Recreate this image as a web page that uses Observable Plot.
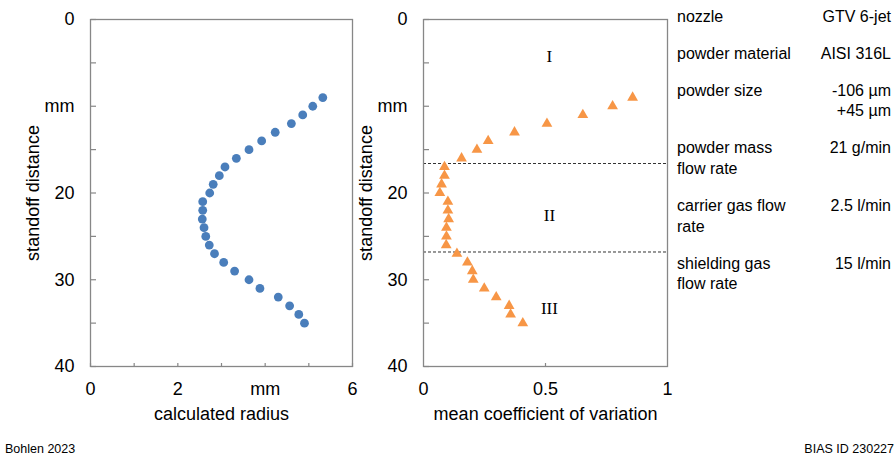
<!DOCTYPE html>
<html>
<head>
<meta charset="utf-8">
<script src="https://cdn.jsdelivr.net/npm/d3@7"></script>
<script src="https://cdn.jsdelivr.net/npm/@observablehq/plot@0.6"></script>
<style>
  html, body { margin: 0; padding: 0; background: #fff; }
  #root { position: relative; width: 896px; height: 460px; overflow: hidden; font-family: "Liberation Sans", Arial, sans-serif; color: #000; }
  #left { position: absolute; left: 0; top: 0; }
  #right { position: absolute; left: 340px; top: 0; }
  #table { position: absolute; left: 677px; top: 6.9px; width: 214px; font-size: 16px; line-height: 20.6px; }
  .row { display: flex; justify-content: space-between; margin-bottom: 16.4px; }
  .row .k { white-space: pre-line; }
  .row .v { white-space: pre-line; text-align: right; }
  .foot { position: absolute; top: 442px; font-size: 12.5px; white-space: nowrap; }
</style>
</head>
<body>
<div id="root">
  <div id="left"></div>
  <div id="right"></div>
  <div id="table"></div>
  <div class="foot" id="footL" style="left:5px"></div>
  <div class="foot" id="footR" style="right:2px"></div>
</div>
<script>
// ---- data ----
const standoff = [9, 10, 11, 12, 13, 14, 15, 16, 17, 18, 19, 20, 21, 22, 23, 24, 25, 26, 27, 28, 29, 30, 31, 32, 33, 34, 35];
const radius = [5.32, 5.09, 4.86, 4.6, 4.23, 3.92, 3.63, 3.34, 3.08, 2.95, 2.81, 2.73, 2.57, 2.57, 2.56, 2.6, 2.64, 2.72, 2.84, 3.05, 3.3, 3.63, 3.88, 4.3, 4.56, 4.77, 4.9];
const meanCov = [0.857, 0.775, 0.653, 0.506, 0.373, 0.265, 0.219, 0.156, 0.086, 0.086, 0.074, 0.067, 0.1, 0.1, 0.103, 0.094, 0.094, 0.093, 0.137, 0.18, 0.2, 0.204, 0.249, 0.298, 0.351, 0.357, 0.407];

const yTicks = [0, 5, 10, 15, 20, 25, 30, 35, 40];
const yLabelValues = [0, 10, 20, 30, 40];
const yLabelTexts = ["0", "mm", "20", "30", "40"];

const xLeftTicks = [0, 1, 2, 3, 4, 5, 6];
const xLeftLabelValues = [0, 2, 4, 6];
const xLeftLabelTexts = ["0", "2", "mm", "6"];

const xRightTicks = [0.5];
const xRightLabelValues = [0, 0.5, 1];
const xRightLabelTexts = ["0", "0.5", "1"];

const regionBounds = [16.6, 26.8];
const regionLabels = ["I", "II", "III"];
const regionLabelX = [0.516, 0.516, 0.516];
const regionLabelY = [4.3, 22.6, 33.3];

const yTitle = "standoff distance";
const xLeftTitle = "calculated radius";
const xRightTitle = "mean coefficient of variation";

const paramNames = ["nozzle", "powder material", "powder size", "powder mass\nflow rate", "carrier gas flow\nrate", "shielding gas\nflow rate"];
const paramValues = ["GTV 6-jet", "AISI 316L", "-106 µm\n+45 µm", "21 g/min", "2.5 l/min", "15 l/min"];

const footLeft = "Bohlen 2023";
const footRight = "BIAS ID 230227";

// ---- build ----
const rows = standoff.map((s, i) => ({standoff: s, radius: radius[i], cov: meanCov[i]}));
const regions = regionLabels.map((t, i) => ({t, x: regionLabelX[i], y: regionLabelY[i]}));
const frameGray = "#878787";

function fmt(values, texts) {
  return d => { const i = values.indexOf(d); return i < 0 ? "" : texts[i]; };
}

function panel({width, marginLeft, marginRight, xDomain, xTicks, xLabelValues, xLabelTexts, xTitle, extra}) {
  return Plot.plot({
    width, height: 430,
    marginLeft, marginRight, marginTop: 19, marginBottom: 64,
    style: {fontFamily: '"Liberation Sans", Arial, sans-serif', fontSize: "18px", color: "#000", background: "transparent", overflow: "visible"},
    x: {domain: xDomain, label: null},
    y: {domain: [0, 40], reverse: true, label: null},
    marks: [
      Plot.axisY({ticks: yTicks, anchor: "right", frameAnchor: "left", tickSize: 5, fill: "none", stroke: frameGray, strokeWidth: 1.2, label: null}),
      Plot.axisY({ticks: yLabelValues, anchor: "left", tickSize: 0, tickPadding: 16, tickFormat: fmt(yLabelValues, yLabelTexts), label: null}),
      Plot.axisX({ticks: xTicks, anchor: "top", frameAnchor: "bottom", tickSize: 4, fill: "none", stroke: frameGray, strokeWidth: 1.2, label: null}),
      Plot.axisX({ticks: xLabelValues, anchor: "bottom", tickSize: 0, tickPadding: 16, tickFormat: fmt(xLabelValues, xLabelTexts), label: null}),
      Plot.text([yTitle], {frameAnchor: "left", dx: -57, rotate: -90, textAnchor: "middle", lineAnchor: "middle"}),
      Plot.text([xTitle], {frameAnchor: "bottom", dy: 48, textAnchor: "middle", lineAnchor: "middle"}),
      ...extra,
      Plot.frame({stroke: frameGray, strokeWidth: 1.3})
    ]
  });
}

document.getElementById("left").append(panel({
  width: 360, marginLeft: 90, marginRight: 8,
  xDomain: [0, 6], xTicks: xLeftTicks, xLabelValues: xLeftLabelValues, xLabelTexts: xLeftLabelTexts, xTitle: xLeftTitle,
  extra: [
    Plot.dot(rows, {x: "radius", y: "standoff", r: 4.4, fill: "#4a7ebb", stroke: "none"})
  ]
}));

document.getElementById("right").append(panel({
  width: 335, marginLeft: 83, marginRight: 8,
  xDomain: [0, 1], xTicks: xRightTicks, xLabelValues: xRightLabelValues, xLabelTexts: xRightLabelTexts, xTitle: xRightTitle,
  extra: [
    Plot.ruleY(regionBounds, {stroke: "#333", strokeWidth: 1, strokeDasharray: "3,2"}),
    Plot.text(regions, {x: "x", y: "y", text: "t", fontFamily: '"Liberation Serif", "Times New Roman", serif', fontSize: 17}),
    Plot.dot(rows, {x: "cov", y: "standoff", symbol: "triangle", r: 4, fill: "#f79646", stroke: "none"})
  ]
}));

const table = document.getElementById("table");
paramNames.forEach((name, i) => {
  const row = document.createElement("div");
  row.className = "row";
  const k = document.createElement("div"); k.className = "k"; k.textContent = name;
  const v = document.createElement("div"); v.className = "v"; v.textContent = paramValues[i];
  row.append(k, v);
  table.append(row);
});
document.getElementById("footL").textContent = footLeft;
document.getElementById("footR").textContent = footRight;
</script>
</body>
</html>
